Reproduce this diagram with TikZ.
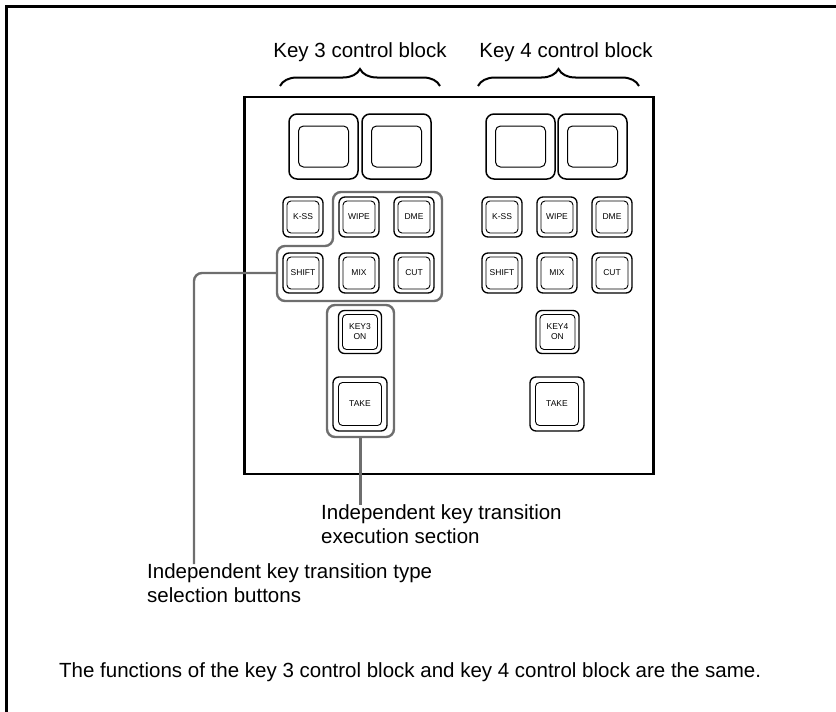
\documentclass[tikz,border=0pt]{standalone}
\usepackage{fontspec}
\setmainfont{Liberation Sans}
\usetikzlibrary{decorations.pathreplacing}
\definecolor{hl}{HTML}{6E6E6E}
\tikzset{
  btnout/.style={draw=black, line width=1.3pt, rounded corners=6pt, inner sep=0pt},
  btnin/.style={draw=black, line width=0.9pt, rounded corners=4pt, inner sep=0pt, align=center, font=\fontsize{8.5}{10}\selectfont},
  dispout/.style={draw=black, line width=1.5pt, rounded corners=8pt, inner sep=0pt, minimum width=69pt, minimum height=65pt},
  dispin/.style={draw=black, line width=1pt, rounded corners=5pt, inner sep=0pt, minimum width=50pt, minimum height=41pt},
  gline/.style={draw=hl, line width=2.4pt, rounded corners=8pt},
  lbl/.style={font=\fontsize{20.5}{24}\selectfont, inner sep=0pt, align=left},
  bracestyle/.style={decorate, decoration={brace, amplitude=17pt, aspect=0.5}, line width=2pt},
}
\newcommand\keybtn[6]{%
  \node[btnout, minimum width=#4pt, minimum height=#4pt] (#1) at (#2,#3) {};
  \node[btnin, minimum width=#4pt-#5pt, minimum height=#4pt-#5pt] (#1i) at (#1) {#6};}
\newcommand\dispbox[3]{%
  \node[dispout] (#1) at (#2,#3) {};
  \node[dispin] (#1i) at (#1) {};}
\begin{document}
\begin{tikzpicture}[x=1pt, y=-1pt]
\useasboundingbox (0,0) rectangle (836,712);
% outer frame
\coordinate (fr1) at (836,6);
\coordinate (fr2) at (6,6);
\coordinate (fr3) at (6,712);
\draw[line width=3pt] (fr1) -- (fr2) -- (fr3);
% titles and braces
\node[lbl] (t3) at (360,52) {Key 3 control block};
\node[lbl] (t4) at (566,52) {Key 4 control block};
\coordinate (b3a) at (280,86);
\coordinate (b3b) at (440,86);
\coordinate (b4a) at (478,86);
\coordinate (b4b) at (639,86);
\draw[bracestyle] (b3a) -- (b3b);
\draw[bracestyle] (b4a) -- (b4b);
% panel
\node[draw=black, line width=2.5pt, inner sep=0pt, minimum width=409pt, minimum height=377pt] (panel) at (449,285.5) {};
% displays
\dispbox{d3a}{323.5}{146.5}
\dispbox{d3b}{396.5}{146.5}
\dispbox{d4a}{520.5}{146.5}
\dispbox{d4b}{592.5}{146.5}
% key 3 buttons
\keybtn{k3kss}{303}{217}{40}{8}{K-SS}
\keybtn{k3wipe}{359}{217}{40}{8}{WIPE}
\keybtn{k3dme}{414}{217}{40}{8}{DME}
\keybtn{k3shift}{303}{273}{40}{8}{SHIFT}
\keybtn{k3mix}{359}{273}{40}{8}{MIX}
\keybtn{k3cut}{414}{273}{40}{8}{CUT}
\keybtn{k3on}{360}{332}{43}{8}{KEY3\\ON}
\keybtn{k3take}{360}{404}{54}{11}{TAKE}
% key 4 buttons
\keybtn{k4kss}{502}{217}{40}{8}{K-SS}
\keybtn{k4wipe}{557}{217}{40}{8}{WIPE}
\keybtn{k4dme}{612}{217}{40}{8}{DME}
\keybtn{k4shift}{502}{273}{40}{8}{SHIFT}
\keybtn{k4mix}{557}{273}{40}{8}{MIX}
\keybtn{k4cut}{612}{273}{40}{8}{CUT}
\keybtn{k4on}{557.5}{332}{43}{8}{KEY4\\ON}
\keybtn{k4take}{557}{404}{54}{11}{TAKE}
% highlight outlines
\draw[gline] (333,192) -- (442,192) -- (442,301) -- (277,301) -- (277,246) -- (333,246) -- cycle;
\node[gline, inner sep=0pt, minimum width=67pt, minimum height=132pt] (exec) at (360.5,371) {};
\coordinate (selL) at (277,273);
% labels
\node[lbl, anchor=north west] (lexec) at (321,504) {Independent key transition\\execution section};
\node[lbl, anchor=north west] (lsel) at (147,563) {Independent key transition type\\selection buttons};
\coordinate (lexecTop) at (360.5,505);
\coordinate (selCorner) at (194,273);
\coordinate (selEnd) at (194,564);
\draw[gline] (exec.south) -- (lexecTop);
\draw[gline] (selL) -- (selCorner) -- (selEnd);
% footer
\node[lbl, anchor=west] (foot) at (59,672) {The functions of the key 3 control block and key 4 control block are the same.};
\end{tikzpicture}
\end{document}
